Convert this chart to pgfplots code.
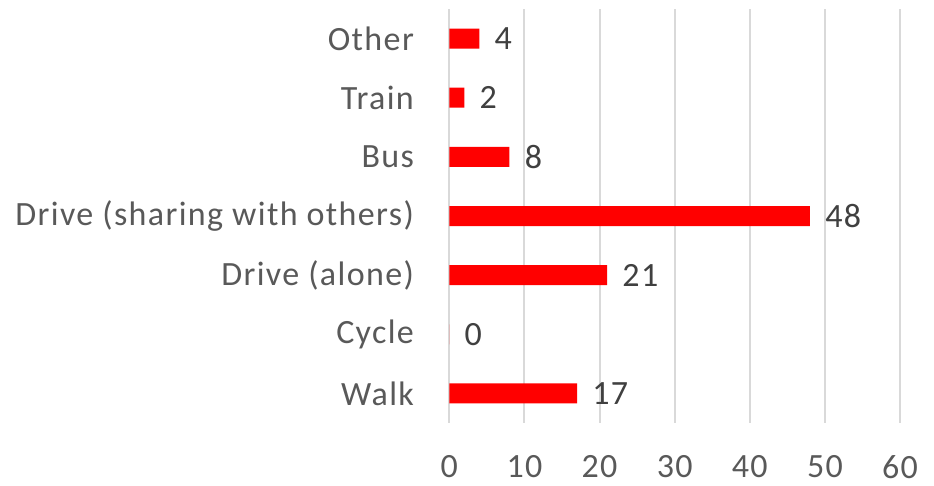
\documentclass[border=0pt]{standalone}
\usepackage{fontspec}
\setmainfont{Carlito}[LetterSpace=4]
\usepackage{pgfplots}
\pgfplotsset{compat=1.18}
\definecolor{gridgrey}{HTML}{D9D9D9}
\definecolor{labelgrey}{HTML}{595959}
\definecolor{valgrey}{HTML}{404040}
\newcommand{\chartfont}{\fontsize{17}{20}\selectfont}

\begin{document}
\begin{tikzpicture}
% 1 px of the reference = 0.5pt
\path[use as bounding box] (-224.65pt,-31.5pt) rectangle (242.35pt,211.5pt);
\begin{axis}[
    at={(0,0)}, anchor=south west,
    xbar,
    scale only axis,
    width=225.4pt, height=207pt,
    xmin=0, xmax=60,
    ymin=-0.5, ymax=6.5,
    xtick={0,10,...,60},
    ytick={0,...,6},
    yticklabels={Walk, Cycle, Drive (alone), Drive (sharing with others), Bus, Train, Other},
    bar width=10pt,
    axis line style={draw=none},
    major tick length=0pt,
    xmajorgrids,
    major grid style={gridgrey, line width=1pt},
    tick label style={font=\chartfont, text=labelgrey, inner sep=0pt},
    xticklabel style={anchor=north, yshift=-16pt, text depth=0pt},
    yticklabel style={anchor=east, xshift=-17.5pt},
    /pgf/number format/assume math mode=true,
    nodes near coords,
    every node near coord/.append style={font=\chartfont, text=valgrey, anchor=west, inner sep=0pt, xshift=7.5pt},
]
\addplot[fill=red, draw=none] coordinates {
    (17,0) (0,1) (21,2) (48,3) (8,4) (2,5) (4,6)
};
\end{axis}
\end{tikzpicture}
\end{document}
